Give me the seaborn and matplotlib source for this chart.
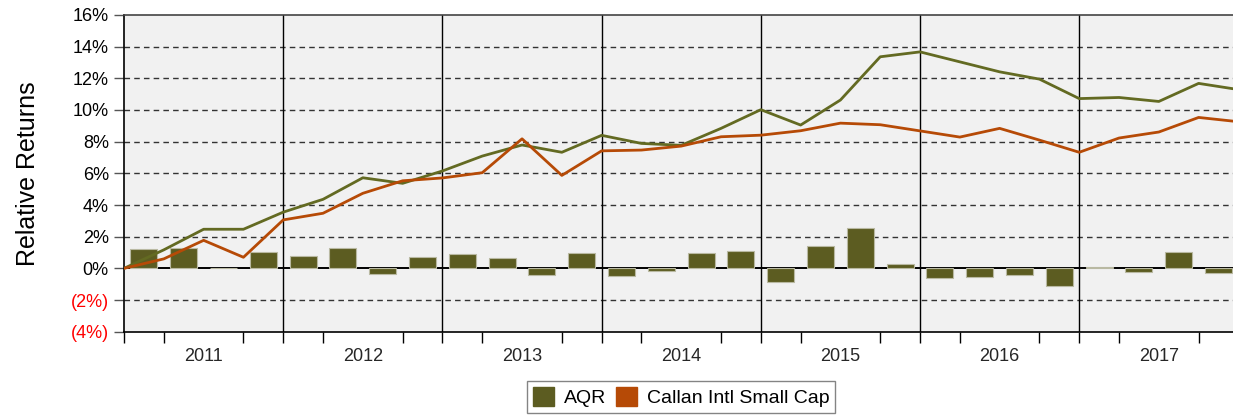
import matplotlib
matplotlib.use("Agg")
import matplotlib.pyplot as plt
from matplotlib.patches import Patch
from matplotlib.ticker import FixedLocator, NullFormatter
import numpy as np
import pandas as pd
import seaborn as sns

# Quarterly relative return of AQR (bars), in percent, 2011 Q1 .. 2017 Q4
quarters = [f"{y}Q{q}" for y in range(2011, 2018) for q in range(1, 5)]
aqr_quarterly = [1.21, 1.27, 0.01, 1.05,
                 0.80, 1.31, -0.33, 0.72,
                 0.91, 0.66, -0.42, 0.99,
                 -0.48, -0.14, 0.99, 1.12,
                 -0.88, 1.41, 2.53, 0.28,
                 -0.61, -0.56, -0.44, -1.11,
                 0.06, -0.25, 1.01, -0.31]

# Cumulative relative returns at quarter ends (start of 2011 .. end of 2017)
aqr_cumulative = [0.0, 1.17, 2.47, 2.47, 3.55,
                  4.36, 5.72, 5.37, 6.15,
                  7.09, 7.79, 7.33, 8.40,
                  7.89, 7.77, 8.84, 10.02,
                  9.05, 10.63, 13.36, 13.67,
                  13.04, 12.41, 11.95, 10.72,
                  10.79, 10.54, 11.68, 11.29]
callan_cumulative = [0.0, 0.60, 1.77, 0.70, 3.06,
                     3.48, 4.74, 5.53, 5.71,
                     6.04, 8.18, 5.87, 7.42,
                     7.47, 7.72, 8.31, 8.41,
                     8.69, 9.17, 9.07, 8.68,
                     8.29, 8.84, 8.10, 7.33,
                     8.23, 8.61, 9.53, 9.26]

years = list(range(2011, 2018))
y_ticks = [-4, -2, 0, 2, 4, 6, 8, 10, 12, 14, 16]

bar_color = "#5C5C21"
aqr_line_color = "#636A22"
callan_color = "#B64A06"

bars = pd.DataFrame({
    "x": [years[0] + (i + 0.5) / 4 for i in range(len(quarters))],
    "value": aqr_quarterly,
})
lines = pd.DataFrame({
    "x": [years[0] + k / 4 for k in range(len(aqr_cumulative))],
    "AQR": aqr_cumulative,
    "Callan Intl Small Cap": callan_cumulative,
})

sns.set_theme(style="white")
plt.rcParams["font.family"] = ["Liberation Sans", "DejaVu Sans"]

fig = plt.figure(figsize=(12.33, 4.15), dpi=100)
ax = fig.add_axes([0.1006, 0.2007, 0.9038, 0.7632])
ax.set_facecolor("#F1F1F1")

sns.barplot(data=bars, x="x", y="value", native_scale=True, width=0.68,
            color=bar_color, saturation=1, edgecolor="#B9B9A2", linewidth=0.8,
            ax=ax, zorder=3)
sns.lineplot(data=lines, x="x", y="AQR", color=aqr_line_color, linewidth=2.0,
             ax=ax, zorder=4)
sns.lineplot(data=lines, x="x", y="Callan Intl Small Cap", color=callan_color,
             linewidth=2.0, ax=ax, zorder=5)

ax.set_xlim(years[0], years[-1] + 1)
ax.set_ylim(y_ticks[0], y_ticks[-1])

# horizontal dashed grid, solid zero line, solid year separators
for v in y_ticks[1:-1]:
    if v == 0:
        ax.axhline(0, color="black", linewidth=1.4, zorder=2)
    else:
        ax.axhline(v, color="#333333", linewidth=1.0, linestyle=(0, (4, 3)), zorder=1)
for yr in years[1:]:
    ax.axvline(yr, color="black", linewidth=1.0, zorder=1)

# year labels in the middle of each year, quarter tick marks below the axis
ax.xaxis.set_major_locator(FixedLocator([yr + 0.5 for yr in years]))
ax.set_xticklabels([str(yr) for yr in years], fontsize=13)
ax.tick_params(axis="x", which="major", length=0, pad=12, bottom=True)
ax.xaxis.set_minor_locator(FixedLocator([years[0] + k / 4
                                         for k in range(len(years) * 4 + 1)]))
ax.xaxis.set_minor_formatter(NullFormatter())
ax.tick_params(axis="x", which="minor", direction="out", length=8, width=1,
               color="black", bottom=True)

ax.set_yticks(y_ticks)
labels = [f"({abs(v)}%)" if v < 0 else f"{v}%" for v in y_ticks]
ax.set_yticklabels(labels, fontsize=13)
for lab, v in zip(ax.get_yticklabels(), y_ticks):
    lab.set_color("#FF0000" if v < 0 else "black")
ax.tick_params(axis="y", direction="out", length=7, width=1, color="#555555",
               left=True, pad=4)

ax.set_xlabel("")
ax.set_ylabel("Relative Returns", fontsize=18, labelpad=22, color="black")

for side in ["left", "bottom", "top", "right"]:
    ax.spines[side].set_visible(True)
    ax.spines[side].set_color("black")
    ax.spines[side].set_linewidth(1.2)
ax.spines["top"].set_color("#444444")

handles = [Patch(facecolor=bar_color, edgecolor=bar_color, label="AQR"),
           Patch(facecolor=callan_color, edgecolor=callan_color,
                 label="Callan Intl Small Cap")]
if ax.get_legend() is not None:
    ax.get_legend().remove()
leg = fig.legend(handles=handles, loc="center", bbox_to_anchor=(0.5523, 0.0434),
                 ncol=2, frameon=True, fancybox=False, fontsize=14,
                 handlelength=1.1, handleheight=1.1, handletextpad=0.5,
                 columnspacing=0.5, borderpad=0.3)
leg.get_frame().set_edgecolor("#666666")
leg.get_frame().set_linewidth(1.0)
for t in leg.get_texts():
    t.set_color("black")

fig.savefig("out.png", dpi=100)
